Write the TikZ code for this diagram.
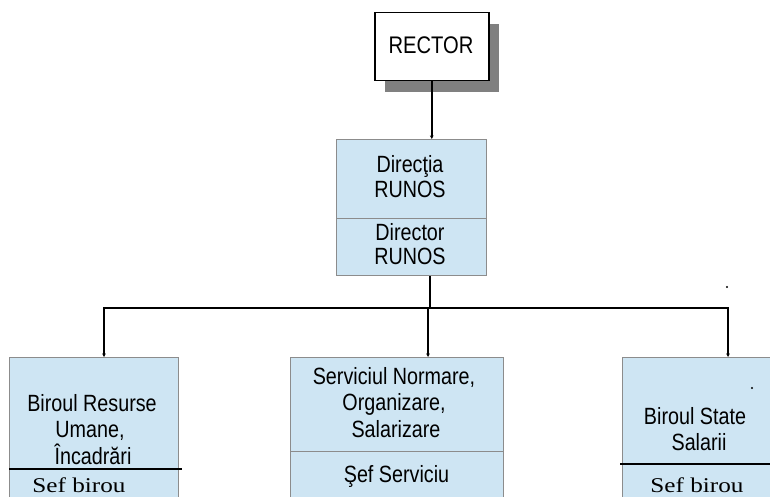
\documentclass[tikz,border=0pt]{standalone}
\usepackage{fontspec}
\setmainfont{Liberation Sans}[FakeStretch=0.84]
\newfontfamily\wideserif{Liberation Serif}[FakeStretch=1.2]
\usetikzlibrary{arrows.meta}
\definecolor{boxblue}{RGB}{206,229,243}
\definecolor{boxedge}{RGB}{140,140,140}
\definecolor{shadowgray}{RGB}{128,128,128}
\tikzset{
  part/.style={draw=boxedge, line width=1pt, fill=boxblue, anchor=north west,
    inner sep=0pt, minimum width=#1},
  topbox/.style={draw=black, line width=1.5pt, fill=white, anchor=north west,
    inner sep=0pt, minimum width=114pt, minimum height=68pt},
  wire/.style={draw=black, line width=1.6pt},
  feed/.style={wire, -{Stealth[length=3.5pt,width=3.5pt]}},
  rule/.style={draw=black, line width=1.8pt},
  txt/.style={anchor=base, inner sep=0pt, font=\fontsize{23.5}{25}\selectfont},
  chief/.style={anchor=base, inner sep=0pt, font=\wideserif\fontsize{21}{23}\selectfont},
}
\begin{document}
\begin{tikzpicture}[x=1pt,y=-1pt]
\useasboundingbox (0,0) rectangle (770,497);
\clip (0,0) rectangle (770,497);
\fill[white] (0,0) rectangle (770,497);

% top box with its drop shadow
\fill[shadowgray] (384.5,24) rectangle (499,92);
\node[topbox] (rector) at (374,12) {};
\node[txt, font=\fontsize{24}{26}\selectfont] (rectorlbl) at (431,54) {RECTOR};

% direction box
\node[part=150pt, minimum height=79pt] (dirtop) at (336,139) {};
\node[part=150pt, minimum height=57pt] (dirbot) at (336,218) {};
\node[txt] (d1) at (410,172) {Direcţia};
\node[txt] (d2) at (410,197) {RUNOS};
\node[txt] (d3) at (410,240) {Director};
\node[txt] (d4) at (410,264) {RUNOS};

% left office
\node[part=169pt, minimum height=112pt] (ltop) at (9,357) {};
\node[part=169pt, minimum height=50pt] (lbot) at (9,469) {};
\draw[rule] (9,469) -- (182,469);
\node[txt] (l1) at (92,411) {Biroul Resurse};
\node[txt] (l2) at (90,437.5) {Umane,};
\node[txt] (l3) at (93,464) {Încadrări};
\node[chief] (l4) at (79,492) {Sef birou};

% middle service
\node[part=213pt, minimum height=94pt] (mtop) at (290,357) {};
\node[part=213pt, minimum height=60pt] (mbot) at (290,451) {};
\node[txt] (m1) at (394,384) {Serviciul Normare,};
\node[txt] (m2) at (394,410.5) {Organizare,};
\node[txt] (m3) at (396,437) {Salarizare};
\node[txt] (m4) at (396.5,482) {Şef Serviciu};

% right office
\node[part=220pt, minimum height=107pt] (rtop) at (622,357) {};
\node[part=220pt, minimum height=50pt] (rbot) at (622,464) {};
\draw[rule] (620,464) -- (780,464);
\node[txt] (r1) at (695,424) {Biroul State};
\node[txt] (r2) at (699,450) {Salarii};
\node[chief] (r3) at (697,492) {Sef birou};

% connectors
\coordinate (hub) at (430,308);
\coordinate (lj) at (104,308);
\coordinate (mj) at (428,308);
\coordinate (rj) at (728,308);
\draw[feed] (rector.south) -- (rector.south |- dirtop.north);
\draw[wire] (dirbot.south -| hub) -- (hub);
\draw[wire, line cap=rect] (lj) -- (rj);
\draw[feed] (lj) -- (lj |- ltop.north);
\draw[feed] (mj) -- (mj |- mtop.north);
\draw[feed] (rj) -- (rj |- rtop.north);

% stray dots
\fill (727,287) circle[radius=1.1pt];
\fill (752,388) circle[radius=1.1pt];
\end{tikzpicture}
\end{document}
